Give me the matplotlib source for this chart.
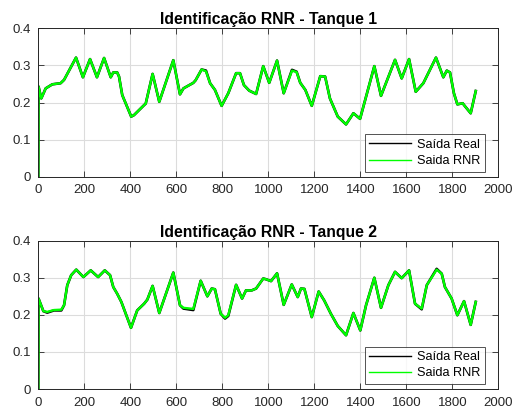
import matplotlib
matplotlib.use("Agg")
import matplotlib.pyplot as plt

plt.rcParams['font.family'] = ['Liberation Sans', 'DejaVu Sans']

# Tank 1: sample index and level (measured output and network output)
t1 = [0, 1, 13, 32, 61, 97, 112, 164, 194, 225, 255, 286, 315, 326, 343, 351,
      365, 404, 416, 460, 467, 497, 526, 587, 616, 631, 674, 684, 710, 729,
      747, 768, 797, 826, 860, 877, 894, 917, 947, 978, 1004, 1038, 1067,
      1103, 1123, 1139, 1161, 1189, 1226, 1247, 1268, 1302, 1338, 1370, 1399,
      1461, 1490, 1551, 1580, 1612, 1641, 1674, 1729, 1761, 1776, 1790, 1807,
      1822, 1845, 1855, 1880, 1902]
real1 = [0.0, 0.243, 0.211, 0.238, 0.249, 0.252, 0.261, 0.321, 0.268, 0.317,
         0.268, 0.320, 0.268, 0.281, 0.281, 0.270, 0.220, 0.162, 0.166, 0.193,
         0.197, 0.277, 0.202, 0.314, 0.222, 0.238, 0.253, 0.260, 0.289, 0.286,
         0.252, 0.234, 0.191, 0.225, 0.279, 0.279, 0.247, 0.232, 0.223, 0.298,
         0.253, 0.313, 0.225, 0.288, 0.283, 0.253, 0.234, 0.191, 0.271, 0.270,
         0.211, 0.162, 0.141, 0.171, 0.156, 0.298, 0.218, 0.315, 0.265, 0.317,
         0.229, 0.252, 0.321, 0.268, 0.286, 0.281, 0.225, 0.195, 0.198, 0.190,
         0.171, 0.231]
rnr1 = [0.0, 0.243, 0.211, 0.238, 0.249, 0.252, 0.261, 0.321, 0.268, 0.317,
        0.268, 0.320, 0.268, 0.281, 0.281, 0.270, 0.220, 0.162, 0.166, 0.193,
        0.197, 0.277, 0.202, 0.314, 0.222, 0.238, 0.253, 0.260, 0.289, 0.284,
        0.252, 0.234, 0.191, 0.225, 0.279, 0.279, 0.247, 0.232, 0.223, 0.298,
        0.253, 0.313, 0.225, 0.286, 0.282, 0.253, 0.234, 0.191, 0.271, 0.270,
        0.211, 0.162, 0.141, 0.171, 0.156, 0.298, 0.218, 0.315, 0.265, 0.317,
        0.229, 0.252, 0.321, 0.268, 0.286, 0.281, 0.225, 0.195, 0.198, 0.190,
        0.171, 0.231]

# Tank 2
t2 = [0, 1, 22, 39, 68, 100, 112, 126, 143, 165, 196, 228, 260, 289, 312, 326,
      343, 361, 403, 430, 460, 474, 497, 526, 587, 616, 631, 674, 706, 735,
      754, 768, 793, 812, 826, 860, 886, 903, 928, 947, 978, 990, 1012, 1038,
      1067, 1102, 1128, 1142, 1157, 1189, 1219, 1243, 1272, 1302, 1338, 1370,
      1400, 1425, 1461, 1490, 1522, 1551, 1580, 1612, 1638, 1667, 1689, 1732,
      1754, 1768, 1797, 1822, 1851, 1880, 1902]
real2 = [0.0, 0.244, 0.210, 0.206, 0.212, 0.212, 0.226, 0.280, 0.307, 0.322,
         0.302, 0.320, 0.302, 0.320, 0.307, 0.275, 0.257, 0.235, 0.165, 0.212,
         0.230, 0.241, 0.278, 0.205, 0.314, 0.226, 0.217, 0.213, 0.292, 0.250,
         0.271, 0.269, 0.203, 0.190, 0.197, 0.281, 0.244, 0.266, 0.266, 0.271,
         0.298, 0.296, 0.291, 0.312, 0.227, 0.282, 0.248, 0.271, 0.270, 0.194,
         0.263, 0.239, 0.203, 0.170, 0.145, 0.205, 0.158, 0.226, 0.300, 0.219,
         0.280, 0.316, 0.299, 0.320, 0.230, 0.215, 0.280, 0.324, 0.311, 0.275,
         0.244, 0.199, 0.237, 0.173, 0.235]
rnr2 = [0.0, 0.244, 0.210, 0.208, 0.213, 0.214, 0.226, 0.280, 0.307, 0.322,
        0.302, 0.320, 0.302, 0.320, 0.307, 0.275, 0.257, 0.235, 0.165, 0.212,
        0.230, 0.241, 0.278, 0.205, 0.314, 0.226, 0.219, 0.216, 0.292, 0.250,
        0.271, 0.269, 0.203, 0.192, 0.199, 0.281, 0.244, 0.266, 0.266, 0.271,
        0.298, 0.296, 0.291, 0.312, 0.227, 0.282, 0.248, 0.271, 0.270, 0.194,
        0.263, 0.239, 0.203, 0.170, 0.145, 0.205, 0.158, 0.226, 0.300, 0.219,
        0.280, 0.316, 0.299, 0.320, 0.230, 0.217, 0.280, 0.322, 0.311, 0.275,
        0.244, 0.199, 0.237, 0.173, 0.235]

titles = ['Identificação RNR - Tanque 1', 'Identificação RNR - Tanque 2']
legend_labels = ['Saída Real', 'Saida RNR']
xticks = [0, 200, 400, 600, 800, 1000, 1200, 1400, 1600, 1800, 2000]
yticks = [0, 0.1, 0.2, 0.3, 0.4]
ytick_labels = ['0', '0.1', '0.2', '0.3', '0.4']

W, H = 513, 412
fig = plt.figure(figsize=(W / 100, H / 100), dpi=100)

left = 38.3 / W
width = (498.3 - 38.3) / W
boxes = [(28.3, 176.7), (240.7, 389.0)]

series = [(t1, real1, rnr1), (t2, real2, rnr2)]
axis_col = '#262626'

for (top, bot), (t, real, rnr), title in zip(boxes, series, titles):
    ax = fig.add_axes([left, 1 - bot / H, width, (bot - top) / H])
    ax.plot(t, real, color='black', lw=1.9, label=legend_labels[0])
    ax.plot(t, rnr, color='#00ff00', lw=1.7, label=legend_labels[1])
    ax.set_xlim(0, 2000)
    ax.set_ylim(0, 0.4)
    ax.set_xticks(xticks)
    ax.set_yticks(yticks)
    ax.set_yticklabels(ytick_labels)
    ax.grid(True, color='#dcdcdc', lw=0.8)
    ax.set_axisbelow(True)
    ax.tick_params(direction='in', length=4, width=0.6, top=True, right=True,
                   labelsize=9.5, colors=axis_col, labelcolor='#262626')
    ax.tick_params(axis='x', pad=5.5)
    ax.tick_params(axis='y', pad=5.5)
    for sp in ax.spines.values():
        sp.set_color(axis_col)
        sp.set_linewidth(0.7)
    ax.set_title(title, fontsize=11.3, fontweight='bold', pad=3)
    leg = ax.legend(loc='lower right', bbox_to_anchor=(0.971, 0.034),
                    fontsize=9.2, frameon=True, fancybox=False,
                    edgecolor=axis_col, borderaxespad=0, handlelength=3.3,
                    handletextpad=0.45, borderpad=0.35, labelspacing=0.35)
    leg.get_frame().set_linewidth(0.7)
    for line in leg.get_lines():
        line.set_linewidth(1.0)

fig.savefig('out.png', dpi=100)
